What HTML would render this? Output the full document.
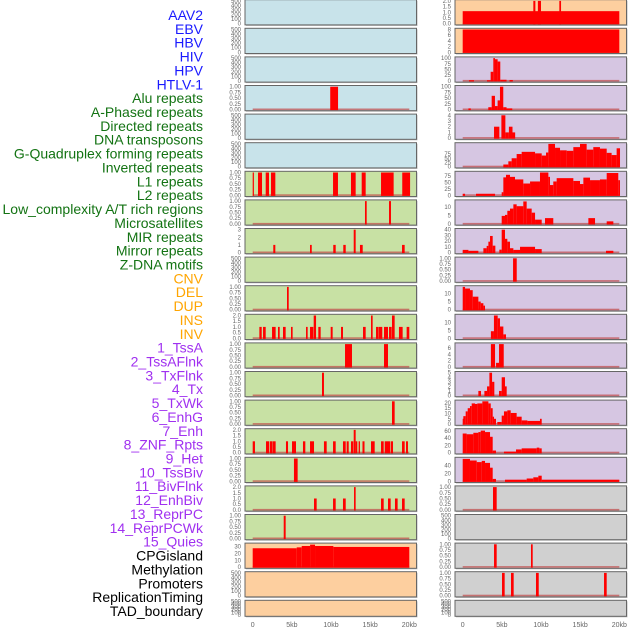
<!DOCTYPE html>
<html><head><meta charset="utf-8"><style>
html,body{margin:0;padding:0;background:#fff;width:630px;height:630px;overflow:hidden}
svg{display:block;font-family:"Liberation Sans",sans-serif}
</style></head><body>
<svg id="chart" width="630" height="630" viewBox="0 0 630 630" xmlns="http://www.w3.org/2000/svg"></svg>
<script>
const labelsText = ["AAV2","EBV","HBV","HIV","HPV","HTLV-1","Alu repeats","A-Phased repeats","Directed repeats","DNA transposons","G-Quadruplex forming repeats","Inverted repeats","L1 repeats","L2 repeats","Low_complexity A/T rich regions","Microsatellites","MIR repeats","Mirror repeats","Z-DNA motifs","CNV","DEL","DUP","INS","INV","1_TssA","2_TssAFlnk","3_TxFlnk","4_Tx","5_TxWk","6_EnhG","7_Enh","8_ZNF_Rpts","9_Het","10_TssBiv","11_BivFlnk","12_EnhBiv","13_ReprPC","14_ReprPCWk","15_Quies","CPGisland","Methylation","Promoters","ReplicationTiming","TAD_boundary"];
const labelGroups = [6,13,5,15,5];
const groupColors = ["#1a1aff","#137313","#ffa500","#a030f0","#000000"];
const xTicks = [0,5,10,15,20];
const xTickLabels = ["0","5kb","10kb","15kb","20kb"];

const T500=[0,100,200,300,400,500], T500L=["0","100","200","300","400","500"];
const T1=[0,0.25,0.5,0.75,1], T1L=["0.00","0.25","0.50","0.75","1.00"];
const T2=[0,0.5,1,1.5,2], T2L=["0.0","0.5","1.0","1.5","2.0"];

// left column segments [startKb,endKb,value]
const L_alu=[[9.9,10.9,1]];
const L_l1=[[0,0.15,1],[0.68,1.19,1],[1.66,2.08,1],[2.34,2.89,1],[10.26,10.89,1],[12.55,13.15,1],[13.92,14.43,1],[16.39,18.0,1],[19.1,20.1,1]];
const L_l2=[[14.34,14.56,1],[17.41,17.66,1]];
const L_mir=[[2.63,2.89,1],[7.32,7.54,1],[10.29,10.6,1],[11.57,11.88,1],[12.9,13.15,3],[13.7,14.05,1],[19.07,19.41,1]];
const L_r10=[[4.38,4.6,1]];
const L_r11=[[0.85,1.15,1],[1.32,1.66,1],[2.47,2.93,1],[3.23,3.45,1],[3.87,4.21,1],[4.89,5.1,1],[6.81,7.02,1],[7.32,7.74,1],[7.79,8.09,2],[8.38,8.68,1],[9.96,10.21,1],[11.28,11.53,1],[14.09,14.43,1],[15.11,15.32,2],[15.75,16.05,1],[16.09,16.55,1],[16.77,17.28,1],[17.41,17.75,1],[17.79,18.13,2],[18.68,19.15,1],[19.66,20.0,1]];
const L_r12=[[11.79,12.68,1],[16.77,17.28,1]];
const L_r13=[[8.85,9.1,1]];
const L_r14=[[17.79,18.13,1]];
const L_r15=[[0,0.29,1],[1.7,2.12,1],[2.21,2.55,1],[2.59,2.93,1],[4.25,4.51,1],[5.02,5.53,1],[6.42,6.72,1],[7.32,7.83,1],[9.1,9.45,1],[10.26,10.6,1],[11.53,11.88,1],[12.0,12.26,1],[12.55,12.85,1],[12.9,13.15,2],[13.15,13.36,1],[13.53,13.7,1],[14.02,14.28,1],[15.11,15.58,1],[16.39,16.73,1],[16.86,17.54,1],[17.62,17.92,1],[19.07,19.41,1],[19.58,19.83,1]];
const L_r16=[[5.27,5.74,1]];
const L_r17=[[7.83,8.17,1],[10.26,10.6,1],[11.53,11.88,1],[12.94,13.15,2],[16.39,16.73,1],[17.28,17.62,1],[18.17,18.51,1],[19.07,19.41,1]];
const L_r18=[[3.96,4.21,1]];
const L_cpg=[[0,5.62,27.7],[5.62,6.26,29],[6.26,7.33,31],[7.33,7.96,33],[7.96,10.3,31],[10.3,20,29.6]];

// right column segments
const R_aav2=[[0,20,1.1],[9.02,9.28,2],[9.6,10.0,2],[12.34,12.56,2]];
const R_ebv=[[0,20,8]];
const R_hiv=[[0.8,1.44,3],[3.1,3.57,3],[3.57,3.91,40],[3.91,4.12,100],[4.12,4.46,95],[4.46,4.8,85],[4.8,5.6,5],[5.98,6.4,4]];
const R_alu=[[0.73,1.03,5],[3.27,3.7,10],[3.7,4.12,60],[4.12,4.46,15],[4.46,4.76,40],[4.76,5.18,100],[5.18,5.6,10],[5.6,6.33,5]];
const R_dir=[[4.0,4.68,2],[4.94,5.45,4],[5.45,5.9,1],[5.9,6.36,2],[6.36,6.7,1]];
const R_gq=[[5.19,5.83,13],[5.83,6.25,32],[6.25,6.89,50],[6.89,7.53,75],[7.53,9.24,88],[9.24,10.09,79],[10.09,10.64,66],[10.64,10.94,84],[10.94,11.79,135],[11.79,12.43,112],[12.43,13.28,97],[13.28,14.13,94],[14.13,14.98,116],[14.98,15.83,135],[15.83,16.68,101],[16.68,17.53,116],[17.53,18.39,107],[18.39,19.02,82],[19.02,19.66,69],[19.66,20.09,109]];
const R_inv=[[0,0.3,6],[1.7,4.13,6],[4.98,5.19,12],[5.19,5.53,70],[5.53,6.04,80],[6.04,6.68,72],[6.68,7.74,62],[7.74,8.6,46],[8.6,9.87,54],[9.87,10.94,89],[10.94,11.15,72],[11.15,11.57,40],[11.57,12.0,54],[12.0,14.13,67],[14.13,14.98,56],[14.98,15.41,44],[15.41,16.26,69],[16.26,17.53,59],[17.53,18.39,62],[18.39,19.87,87],[19.87,20.09,59]];
const R_low=[[4.98,5.4,4.7],[5.4,5.7,5.3],[5.7,6.04,7.7],[6.04,6.47,9],[6.47,6.89,11.5],[6.89,7.74,10.4],[7.74,8.17,13.2],[8.17,8.81,9],[8.81,9.24,6.6],[9.24,10.09,2.5],[10.51,11.57,3.4],[16.05,16.9,3.4],[18.39,19.24,1.5]];
const R_mir=[[0,0.73,4.6],[0.73,2.0,3],[2.64,3.06,7.5],[3.06,3.28,11.6],[3.28,3.49,19],[3.49,3.83,29],[3.83,4.17,12],[4.68,4.98,5],[4.98,5.4,40],[5.4,5.7,24],[5.7,6.04,19],[6.04,6.47,7.5],[6.47,7.32,4.6],[7.32,9.24,10],[9.24,10.09,6],[18.3,19.24,3]];
const R_zdna=[[6.43,6.9,1]];
const R_r10=[[0,0.3,14],[0.3,0.93,13],[0.93,1.28,12],[1.28,2.0,8],[2.0,2.3,5],[2.3,2.64,4],[2.64,2.85,2.5]];
const R_r11=[[3.6,3.99,4.5],[3.99,4.47,14.5],[4.47,4.76,12.7],[4.76,5.19,7.5],[5.19,5.53,2.5]];
const R_r12=[[3.6,4.13,7.3],[4.26,4.64,1.3],[4.64,5.24,7.3]];
const R_r13=[[2.0,2.34,1],[2.77,3.11,1],[3.11,3.41,2],[3.41,3.75,5],[3.75,4.04,3],[4.64,4.98,1],[4.98,5.4,4],[5.4,5.62,2]];
const R_r14=[[0,0.08,5],[0.08,0.38,7.5],[0.38,0.64,12],[0.64,0.93,15],[0.93,1.15,17],[1.15,1.57,19.5],[1.57,1.87,19],[1.87,2.51,19.5],[2.51,3.28,21.5],[3.28,3.58,19.5],[3.58,3.83,15],[3.83,4.0,7],[4.0,4.25,5],[4.42,4.98,2],[4.98,5.27,8],[5.27,5.7,12],[5.7,6.13,13],[6.13,6.89,10.5],[6.89,7.53,7],[7.53,8.26,3.5],[8.26,9.87,3],[9.87,10.09,5]];
const R_r15=[[0,0.5,53],[0.5,1.36,51],[1.36,2.0,55],[2.0,2.3,57],[2.3,2.85,61],[2.85,3.49,57],[3.49,3.83,44],[3.83,4.25,6],[5.27,6.81,3],[6.81,7.53,9],[7.53,9.45,12],[9.45,9.79,14],[9.79,10.09,12]];
const R_r16=[[0,0.93,56],[0.93,1.79,52],[1.79,2.43,48],[2.43,2.85,51],[2.85,3.49,46],[3.49,3.83,34],[3.83,4.25,6],[5.4,8.17,4],[8.17,9.02,7],[9.02,9.66,10],[9.66,10.09,14],[10.09,20,4]];
const R_r17=[[3.87,4.34,1]];
const R_r19=[[4.0,4.34,1],[8.72,8.94,1]];
const R_r20=[[5.02,5.36,1],[6.17,6.51,1],[9.36,9.71,1],[18.05,18.39,1]];

const BLUE="#c8e3ea",GREEN="#c8e1a4",ORANGE="#fdcf9f",PURPLE="#d6c6e2",GRAY="#d0d0d0";
const leftRows=[
[BLUE,500,T500,T500L,null],[BLUE,500,T500,T500L,null],[BLUE,500,T500,T500L,null],
[BLUE,1,T1,T1L,L_alu],[BLUE,500,T500,T500L,null],[BLUE,500,T500,T500L,null],
[GREEN,1,T1,T1L,L_l1],[GREEN,1,T1,T1L,L_l2],[GREEN,3,[0,1,2,3],["0","1","2","3"],L_mir],
[GREEN,500,T500,T500L,null],[GREEN,1,T1,T1L,L_r10],[GREEN,2,T2,T2L,L_r11],
[GREEN,1,T1,T1L,L_r12],[GREEN,1,T1,T1L,L_r13],[GREEN,1,T1,T1L,L_r14],
[GREEN,2,T2,T2L,L_r15],[GREEN,1,T1,T1L,L_r16],[GREEN,2,T2,T2L,L_r17],
[GREEN,1,T1,T1L,L_r18],[ORANGE,33.5,[0,10,20,30],["0","10","20","30"],L_cpg],
[ORANGE,500,T500,T500L,null],[ORANGE,500,T500,T500L,null]];
const rightRows=[
[ORANGE,2,T2,T2L,R_aav2],[ORANGE,8,[0,2,4,6,8],["0","2","4","6","8"],R_ebv],
[PURPLE,100,[0,25,50,75,100],["0","25","50","75","100"],R_hiv],
[PURPLE,100,[0,25,50,75,100],["0","25","50","75","100"],R_alu],
[PURPLE,4,[0,1,2,3,4],["0","1","2","3","4"],R_dir],
[PURPLE,135,[0,25,50,75],["0","25","50","75"],R_gq],
[PURPLE,89,[0,25,50,75],["0","25","50","75"],R_inv],
[PURPLE,13.4,[0,5,10],["0","5","10"],R_low],
[PURPLE,40,[0,10,20,30,40],["0","10","20","30","40"],R_mir],
[PURPLE,1,T1,T1L,R_zdna],
[PURPLE,14,[0,5,10],["0","5","10"],R_r10],
[PURPLE,14.5,[0,5,10],["0","5","10"],R_r11],
[PURPLE,7.3,[0,2,4,6],["0","2","4","6"],R_r12],
[PURPLE,5,[0,1,2,3,4,5],["0","1","2","3","4","5"],R_r13],
[PURPLE,21.5,[0,5,10,15,20],["0","5","10","15","20"],R_r14],
[PURPLE,63,[0,20,40,60],["0","20","40","60"],R_r15],
[PURPLE,57,[0,20,40],["0","20","40"],R_r16],
[GRAY,1,T1,T1L,R_r17],[GRAY,500,T500,T500L,null],
[GRAY,1,T1,T1L,R_r19],[GRAY,1,T1,T1L,R_r20],[GRAY,500,T500,T500L,null]];

const NS="http://www.w3.org/2000/svg";
const svg=document.getElementById('chart');
function mk(tag,attrs,parent){const e=document.createElementNS(NS,tag);for(const k in attrs)e.setAttribute(k,attrs[k]);(parent||svg).appendChild(e);return e;}

// labels
let li=0;
labelGroups.forEach((n,g)=>{for(let k=0;k<n;k++){const t=mk('text',{x:203,y:(20+li*13.86).toFixed(1),'text-anchor':'end','font-size':'14',fill:groupColors[g]});t.textContent=labelsText[li];


li++;}});

const cols=[{x0:245,x1:416.5,zero:252.7,rows:leftRows,name:'left'},{x0:455,x1:626.5,zero:462.7,rows:rightRows,name:'right'}];
const kbPx=7.83;
cols.forEach(c=>{
  const xs=kb=>c.zero+kb*kbPx;
  c.rows.forEach((r,i)=>{
    const top=i*28.6-0.3, h=(i===21)?16:25.2;
    const g=mk('g',{});
    
    
    mk('rect',{x:c.x0+1,y:top+1,width:c.x1-c.x0,height:h,fill:'#bbb'},g);
    mk('rect',{x:c.x0,y:top,width:c.x1-c.x0,height:h,fill:r[0],stroke:'#666','stroke-width':1},g);
    const y0=top+h-1.2, y1=top+1.2;
    const ys=v=>y0-(v/r[1])*(y0-y1);
    if(r[4]){
      mk('rect',{x:xs(0),y:y0-1,width:xs(20)-xs(0),height:1.6,fill:'#c04848',opacity:0.7},g);
      r[4].forEach(s=>{
        const b=mk('rect',{x:xs(s[0]).toFixed(2),y:ys(s[2]).toFixed(2),width:Math.max(1.2,xs(s[1])-xs(s[0])).toFixed(2),height:(y0-ys(s[2])+0.6).toFixed(2),fill:'#ff0000'},g);
        
        
      });
    }
    r[2].forEach((tv,k)=>{
      const t=mk('text',{x:c.x0-4,y:(ys(tv)+2).toFixed(1),'text-anchor':'end','font-size':'6',fill:'#666'},g);
      t.textContent=r[3][k];
      
      
    });
  });
  xTicks.forEach((v,k)=>{
    const t=mk('text',{x:xs(v),y:627,'text-anchor':'middle','font-size':'7',fill:'#666'});
    t.textContent=xTickLabels[k];
    
    
  });
});
</script>
</body></html>
